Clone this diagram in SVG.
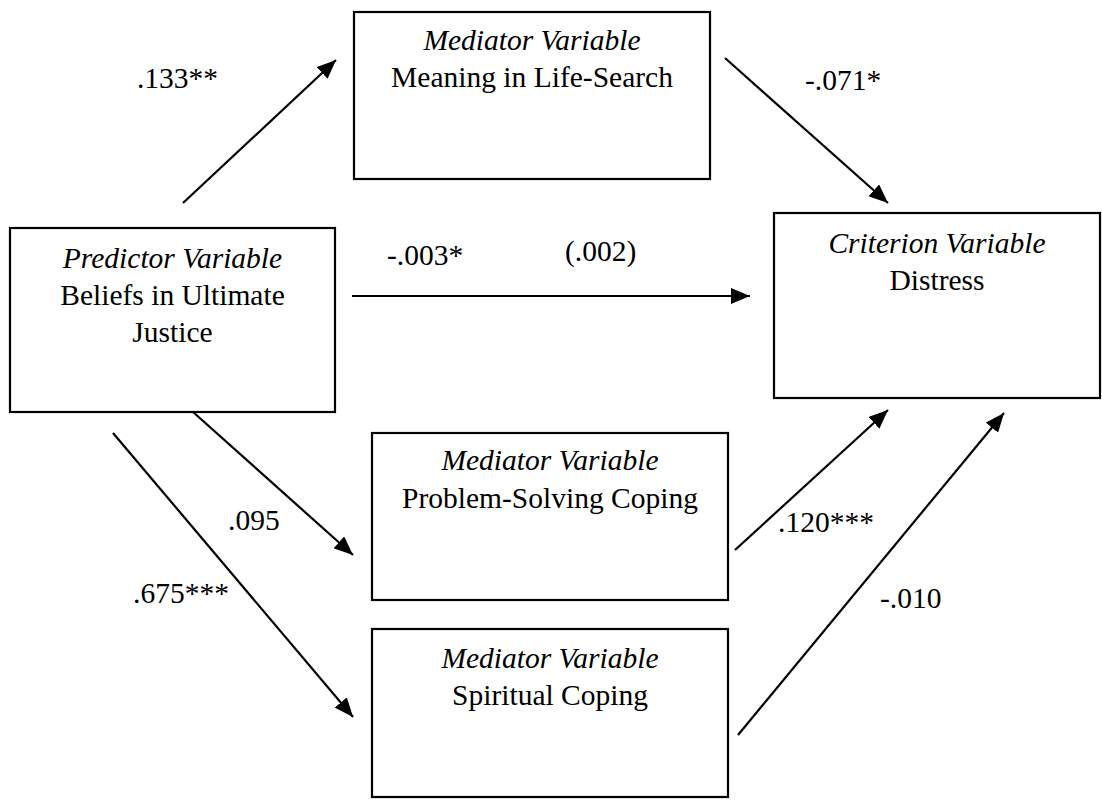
<svg xmlns="http://www.w3.org/2000/svg" width="1102" height="804" viewBox="0 0 1102 804">
  <style>
    .box { fill: #fff; stroke: #000; stroke-width: 2.2; }
    .t { font-family: 'Liberation Serif', 'Times New Roman', Times, 'DejaVu Serif', serif; font-size: 29.5px; fill: #000; }
    .c { text-anchor: middle; }
    .i { font-style: italic; }
    .edge { stroke: #000; stroke-width: 2.2; fill: none; marker-end: url(#arrow); }
  </style>
  <defs>
    <marker id="arrow" markerUnits="userSpaceOnUse" markerWidth="20" markerHeight="16" refX="19" refY="8" orient="auto">
      <path d="M0,0 L19,8 L0,16 z" fill="#000"/>
    </marker>
  </defs>
  <rect width="1102" height="804" fill="#fff"/>

  <g id="connectors">
    <line class="edge" x1="183" y1="203" x2="336" y2="60"/>
    <line class="edge" x1="725" y1="58" x2="888" y2="203"/>
    <line class="edge" x1="352" y1="296" x2="750" y2="296"/>
    <line class="edge" x1="193" y1="412" x2="353" y2="555"/>
    <line class="edge" x1="113" y1="433" x2="353" y2="717"/>
    <line class="edge" x1="735" y1="550" x2="888" y2="410"/>
    <line class="edge" x1="738" y1="735" x2="1004" y2="413"/>
  </g>

  <g id="labels" font-family="Liberation Serif, serif">
    <text class="t" x="218" y="88" text-anchor="end">.133**</text>
    <text class="t" x="805" y="90">-.071*</text>
    <text class="t" x="387" y="265">-.003*</text>
    <text class="t" x="565" y="261">(.002)</text>
    <text class="t" x="228" y="530">.095</text>
    <text class="t" x="133" y="603">.675***</text>
    <text class="t" x="778" y="532">.120***</text>
    <text class="t" x="880" y="608">-.010</text>
  </g>

  <g id="node-meaning">
    <rect class="box" x="354" y="12" width="356" height="167"/>
    <text class="t c i" x="532" y="50">Mediator Variable</text>
    <text class="t c" x="532" y="87">Meaning in Life-Search</text>
  </g>

  <g id="node-predictor">
    <rect class="box" x="10" y="228" width="325" height="184"/>
    <text class="t c i" x="172.5" y="268">Predictor Variable</text>
    <text class="t c" x="172.5" y="305">Beliefs in Ultimate</text>
    <text class="t c" x="172.5" y="342">Justice</text>
  </g>

  <g id="node-criterion">
    <rect class="box" x="774" y="213" width="326" height="185"/>
    <text class="t c i" x="937" y="253">Criterion Variable</text>
    <text class="t c" x="937" y="290">Distress</text>
  </g>

  <g id="node-problem">
    <rect class="box" x="372" y="433" width="356" height="167"/>
    <text class="t c i" x="550" y="470">Mediator Variable</text>
    <text class="t c" x="550" y="508">Problem-Solving Coping</text>
  </g>

  <g id="node-spiritual">
    <rect class="box" x="372" y="629" width="356" height="168"/>
    <text class="t c i" x="550" y="668">Mediator Variable</text>
    <text class="t c" x="550" y="705">Spiritual Coping</text>
  </g>
</svg>
